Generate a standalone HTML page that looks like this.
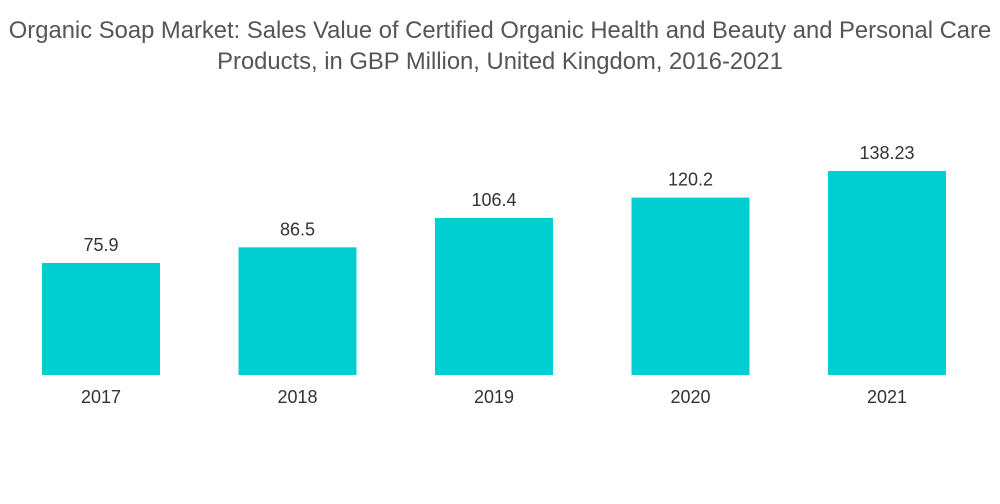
<!DOCTYPE html>
<html>
<head>
<meta charset="utf-8">
<style>
  html,body{margin:0;padding:0;background:#fff;}
  body{width:1000px;height:504px;overflow:hidden;font-family:"Liberation Sans",sans-serif;}
  .title{position:absolute;left:-20px;top:15px;width:1040px;text-align:center;color:#555;font-size:23.8px;line-height:31px;white-space:nowrap;}
  svg{position:absolute;left:0;top:0;}
</style>
</head>
<body>
<div class="title">Organic Soap Market: Sales Value of Certified Organic Health and Beauty and Personal Care<br>Products, in GBP Million, United Kingdom, 2016-2021</div>
<svg id="chart" width="1000" height="504"></svg>
<script>
const categories = ["2017","2018","2019","2020","2021"];
const values = [75.9, 86.5, 106.4, 120.2, 138.23];
const valueLabels = ["75.9","86.5","106.4","120.2","138.23"];

const svg = document.getElementById('chart');
const NS = 'http://www.w3.org/2000/svg';
const baseY = 375, pxPerUnit = 1.476;
const firstX = 42, step = 196.5, barW = 118;
function yScale(v){ return baseY - v * pxPerUnit; }
function xScale(i){ return firstX + i * step; }

categories.forEach((c, i) => {
  const x = xScale(i), y = yScale(values[i]);
  const r = document.createElementNS(NS, 'rect');
  r.setAttribute('x', x); r.setAttribute('y', y);
  r.setAttribute('width', barW); r.setAttribute('height', baseY - y);
  r.setAttribute('fill', '#00ced1');
  
  
  svg.appendChild(r);

  const t = document.createElementNS(NS, 'text');
  t.setAttribute('x', x + barW / 2); t.setAttribute('y', y - 12);
  t.setAttribute('text-anchor', 'middle'); t.setAttribute('font-size', '18');
  t.setAttribute('fill', '#333'); t.setAttribute('font-family', 'Liberation Sans, sans-serif');
  t.textContent = valueLabels[i];
  
  
  svg.appendChild(t);

  const l = document.createElementNS(NS, 'text');
  l.setAttribute('x', x + barW / 2); l.setAttribute('y', 403);
  l.setAttribute('text-anchor', 'middle'); l.setAttribute('font-size', '18');
  l.setAttribute('fill', '#333'); l.setAttribute('font-family', 'Liberation Sans, sans-serif');
  l.textContent = c;
  
  
  svg.appendChild(l);
});
</script>
</body>
</html>
